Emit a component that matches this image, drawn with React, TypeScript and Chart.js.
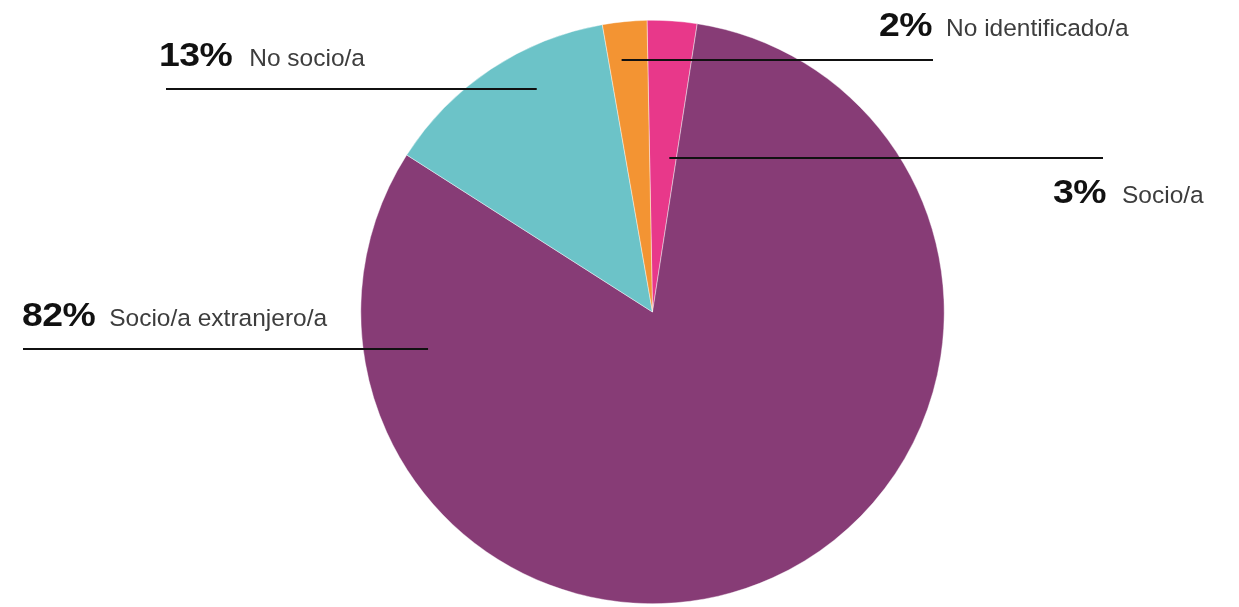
import { useEffect, useRef } from "react";
import { Chart, registerables } from "chart.js";

Chart.register(...registerables);

// ---- data ----
const categories = ["Socio/a", "Socio/a extranjero/a", "No socio/a", "No identificado/a"];
const shares = [2.75, 81.6, 13.2, 2.45];
const percentLabels = ["3%", "82%", "13%", "2%"];
const colors = ["#E8388A", "#873C76", "#6CC3C8", "#F39433"];

// ---- callout styling (where each leader line starts inside its slice, where it ends) ----
const callouts = [
  { t: 0.74, r: 0.53, endX: 1103, side: "right", textDy: 45, textDx: 3, gap: 16 },
  { t: 0.857, r: 0.78, endX: 23, side: "left", textDy: -23, textDx: -1, gap: 14 },
  { t: 0.63, r: 0.86, endX: 166, side: "left", textDy: -23, textDx: -7, gap: 17 },
  { t: 0.33, r: 0.87, endX: 933, side: "right", textDy: -24, textDx: -1, gap: 14 },
];

const PCT_SCALE_X = 1.1;

const calloutPlugin = {
  id: "callouts",
  afterDatasetsDraw(chart: any) {
    const ctx = chart.ctx as CanvasRenderingContext2D;
    const meta = chart.getDatasetMeta(0);
    meta.data.forEach((arc: any, i: number) => {
      const c = callouts[i];
      const p = arc.getProps(["x", "y", "startAngle", "endAngle", "outerRadius"], true);
      const a = p.startAngle + c.t * (p.endAngle - p.startAngle);
      const sx = p.x + Math.cos(a) * p.outerRadius * c.r;
      const sy = Math.round(p.y + Math.sin(a) * p.outerRadius * c.r);
      ctx.save();
      ctx.strokeStyle = "#111";
      ctx.lineWidth = 2;
      ctx.beginPath();
      ctx.moveTo(sx, sy);
      ctx.lineTo(c.endX, sy);
      ctx.stroke();

      const pct = percentLabels[i];
      const label = categories[i];
      const baseY = sy + c.textDy;
      ctx.textBaseline = "alphabetic";
      ctx.textAlign = "left";
      ctx.font = "bold 34px 'Liberation Sans', Arial, sans-serif";
      (ctx as any).letterSpacing = "-0.5px";
      const pw = ctx.measureText(pct).width * PCT_SCALE_X;
      const px = c.side === "right" ? c.endX + c.textDx - pw : c.endX + c.textDx;
      ctx.fillStyle = "#111";
      ctx.save();
      ctx.translate(px, baseY);
      ctx.scale(PCT_SCALE_X, 1);
      ctx.fillText(pct, 0, 0);
      ctx.restore();
      (ctx as any).letterSpacing = "0px";
      ctx.font = "24.5px 'Liberation Sans', Arial, sans-serif";
      ctx.fillStyle = "#3d3d3d";
      ctx.fillText(label, px + pw + c.gap, baseY);
      ctx.restore();
    });
  },
};

export default function App() {
  const ref = useRef<HTMLCanvasElement | null>(null);
  useEffect(() => {
    document.body.style.margin = "0";
    if (!ref.current) return;
    const chart = new Chart(ref.current, {
      type: "pie",
      data: {
        labels: categories,
        datasets: [
          {
            data: shares,
            backgroundColor: colors,
            borderColor: "rgba(255,255,255,0.7)",
            borderWidth: 0.6,
          },
        ],
      },
      options: {
        animation: false,
        responsive: true,
        maintainAspectRatio: false,
        rotation: -1.08,
        layout: { padding: { top: 20, bottom: 3, left: 66, right: 0 } },
        plugins: {
          legend: { display: false },
          tooltip: { enabled: false },
        },
      },
      plugins: [calloutPlugin],
    });
    return () => chart.destroy();
  }, []);
  return (
    <div style={{ position: "fixed", left: 0, top: 0, width: 1239, height: 607, background: "#fff" }}>
      <canvas ref={ref} />
    </div>
  );
}
